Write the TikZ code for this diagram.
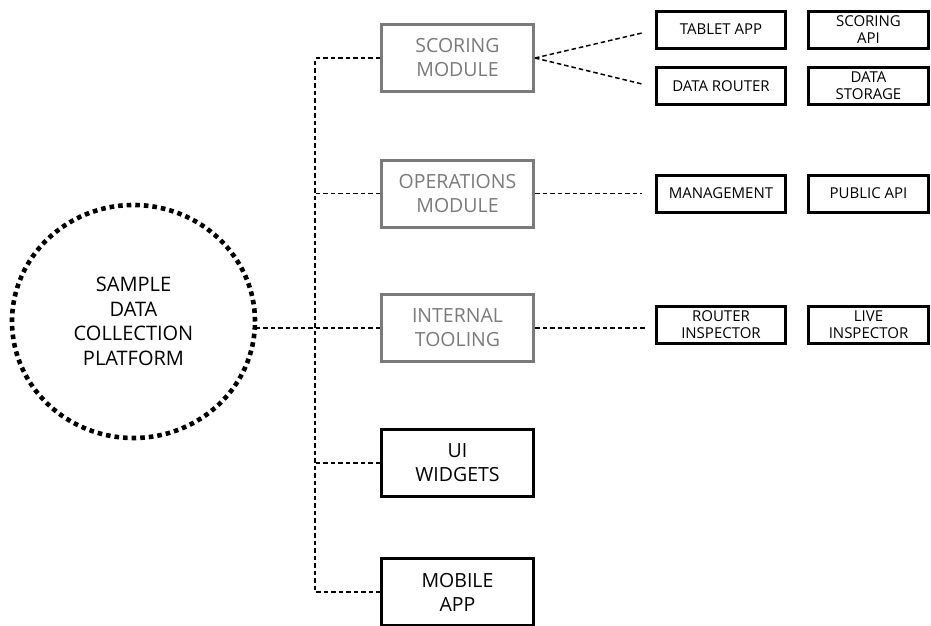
\documentclass[tikz,border=0pt]{standalone}
\usepackage{fontspec}
\setmainfont{Open Sans}
\usetikzlibrary{shapes.geometric,calc}
\definecolor{muted}{HTML}{7A7A7A}
\begin{document}
\begin{tikzpicture}[x=1pt,y=-1pt,
  link/.style={line width=1.5pt,dash pattern=on 4.5pt off 3pt},
  bigbox/.style={draw,line width=3pt,minimum width=152pt,minimum height=67pt,
    align=center,font=\fontsize{19.5}{24}\selectfont,inner sep=0pt},
  greybox/.style={bigbox,draw=muted,text=muted},
  darkbox/.style={bigbox,draw=black,text=black},
  smallbox/.style={draw,line width=3pt,minimum height=37pt,align=center,
    font=\fontsize{15}{17}\selectfont,inner sep=0pt},
  leftcol/.style={smallbox,minimum width=129pt},
  rightcol/.style={smallbox,minimum width=120pt},
  hub/.style={ellipse,draw,line width=4.6pt,dash pattern=on 4.6pt off 4pt,
    minimum width=243pt,minimum height=233pt,align=center,
    font=\fontsize{20}{24.5}\selectfont}]
\useasboundingbox (0,0) rectangle (931,625);

% central platform
\node[hub] (platform) at (133.5,321.5) {SAMPLE\\DATA\\COLLECTION\\PLATFORM};

% modules
\node[greybox] (scoring) at (457.5,58) {SCORING\\MODULE};
\node[greybox] (operations) at (457.5,193.5) {OPERATIONS\\MODULE};
\node[greybox] (tooling) at (457.5,328) {INTERNAL\\TOOLING};
\node[darkbox] (widgets) at (457.5,463) {UI\\WIDGETS};
\node[darkbox] (mobile) at (457.5,592) {MOBILE\\APP};

% components
\node[leftcol] (tablet) at (721,29.5) {TABLET APP};
\node[rightcol] (scoringapi) at (868.5,29.5) {SCORING\\API};
\node[leftcol] (router) at (721,86) {DATA ROUTER};
\node[rightcol] (storage) at (868.5,86) {DATA\\STORAGE};
\node[leftcol] (management) at (721,193.5) {MANAGEMENT};
\node[rightcol] (publicapi) at (868.5,193.5) {PUBLIC API};
\node[leftcol] (rinspector) at (721,325) {ROUTER\\INSPECTOR};
\node[rightcol] (linspector) at (868.5,325) {LIVE\\INSPECTOR};

% trunk
\coordinate (trunk) at (315,0);
\draw[link] (scoring.west) -- (scoring.west -| trunk) |- (mobile.west);
\draw[link] (operations.west) -- (operations.west -| trunk);
\draw[link] (widgets.west) -- (widgets.west -| trunk);
\draw[link] (tooling.west) -- (tooling.west -| platform.east);

% module to component links
\coordinate (tabletend) at ($(tablet.west)+(-13,3.5)$);
\coordinate (routerend) at ($(router.west)+(-13,-2)$);
\coordinate (mgmtend) at ($(management.west)+(-13,0)$);
\coordinate (inspend) at ($(rinspector.west)+(-8,1)$);
\draw[link] (scoring.east) -- (tabletend);
\draw[link] (scoring.east) -- (routerend);
\draw[link] (operations.east) -- (mgmtend);
\draw[link] (tooling.east) -- (tooling.east -| inspend);
\end{tikzpicture}
\end{document}
